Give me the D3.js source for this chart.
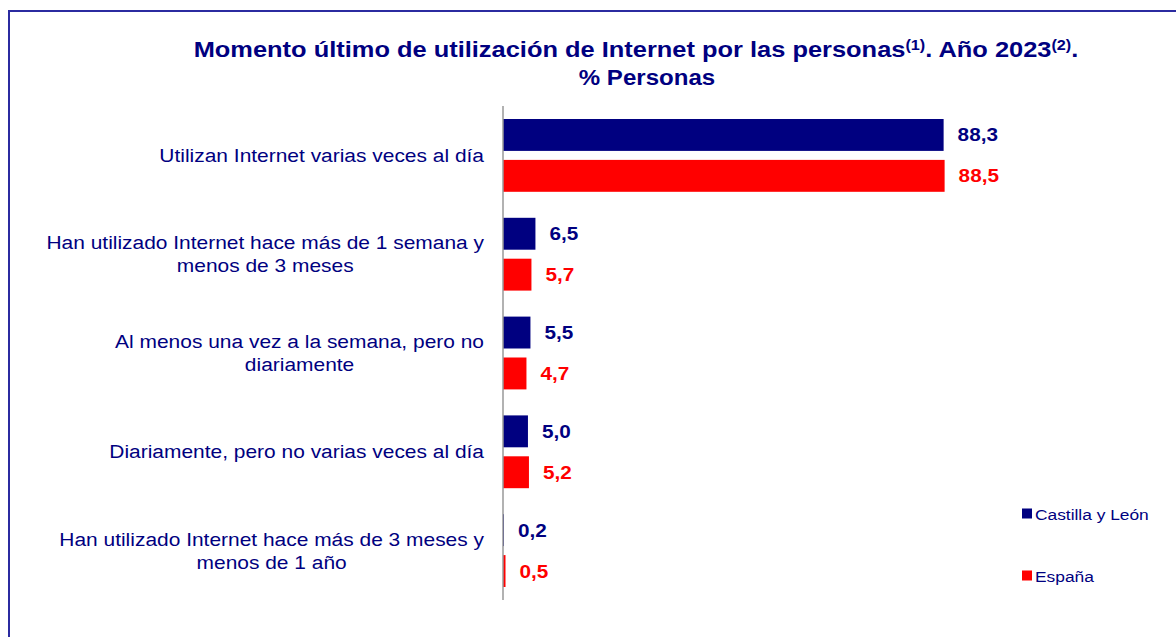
<!DOCTYPE html>
<html>
<head>
<meta charset="utf-8">
<script src="https://cdn.jsdelivr.net/npm/d3@7"></script>
<style>
  html, body { margin: 0; padding: 0; background: #fff; }
  svg { display: block; font-family: "Liberation Sans", Arial, sans-serif; }
</style>
</head>
<body>
<svg id="chart" width="1176" height="637"></svg>
<script>
const categories = [
  ["Utilizan Internet varias veces al día"],
  ["Han utilizado Internet hace más de 1 semana y", "menos de 3 meses"],
  ["Al menos una vez a la semana, pero no", "diariamente"],
  ["Diariamente, pero no varias veces al día"],
  ["Han utilizado Internet hace más de 3 meses y", "menos de 1 año"]
];
const seriesNames = ["Castilla y León", "España"];
const castillaLeon = [88.3, 6.5, 5.5, 5.0, 0.2];
const espana = [88.5, 5.7, 4.7, 5.2, 0.5];
const seriesColors = ["#000080", "#FF0000"];

const svg = d3.select("#chart");
const SX = 1.12;
const navy = "#000080";

// frame
svg.append("rect").attr("x", 9).attr("y", 11).attr("width", 1200).attr("height", 700)
  .attr("fill", "none").attr("stroke", "#2b2ba0").attr("stroke-width", 2);

function stext(g, x, y, str) {
  return g.append("text").attr("transform", `translate(${x},${y}) scale(${SX},1)`).text(str);
}

// title
const t1 = svg.append("text").attr("transform", `translate(636,57) scale(${SX},1)`)
  .attr("text-anchor", "middle").attr("fill", navy).attr("font-weight", "bold").attr("font-size", 22.7);
t1.append("tspan").text("Momento último de utilización de Internet por las personas");
t1.append("tspan").attr("font-size", 14.5).attr("dy", -7).text("(1)");
t1.append("tspan").attr("dy", 7).text(". Año 2023");
t1.append("tspan").attr("font-size", 14.5).attr("dy", -7).text("(2)");
t1.append("tspan").attr("dy", 7).text(".");
stext(svg, 647, 85, "% Personas").attr("text-anchor", "middle").attr("fill", navy)
  .attr("font-weight", "bold").attr("font-size", 21.5);

const x = d3.scaleLinear().domain([0, 100]).range([503, 1002]);
const y = d3.scaleBand().domain(d3.range(categories.length)).range([106, 600]).padding(0);
const yInner = d3.scaleBand().domain([0, 1]).range([13, y.bandwidth() - 13]).paddingInner(0.22);

const data = [castillaLeon, espana];
const fmt = v => d3.format(".1f")(v).replace(".", ",");

categories.forEach((cat, i) => {
  const g = svg.append("g").attr("transform", `translate(0,${y(i)})`);
  data.forEach((vals, s) => {
    const v = vals[i];
    g.append("rect").attr("x", x(0)).attr("y", yInner(s))
      .attr("width", x(v) - x(0)).attr("height", yInner.bandwidth())
      .attr("fill", seriesColors[s]);
    stext(g, x(v) + 14, yInner(s) + yInner.bandwidth() / 2 + 6.5, fmt(v))
      .attr("fill", seriesColors[s]).attr("font-weight", "bold").attr("font-size", 18.5);
  });
  // category label
  const cy = y(i) + y.bandwidth() / 2;
  const lh = 23;
  const n = cat.length;
  const texts = cat.map((line, k) => stext(svg, 0, 0, line)
    .attr("fill", navy).attr("font-size", 18.7).attr("text-anchor", "middle"));
  const widths = texts.map(t => t.node().getComputedTextLength() * SX);
  const wMax = widths[0];
  texts.forEach((t, k) => {
    const ly = cy - (n - 1) * lh / 2 + k * lh + 6.5;
    t.attr("transform", `translate(${484 - wMax / 2},${ly}) scale(${SX},1)`);
  });
});

// axis line
svg.append("line").attr("x1", x(0)).attr("x2", x(0)).attr("y1", 106).attr("y2", 600)
  .attr("stroke", "#999").attr("stroke-width", 1.5);

// legend
const leg = svg.append("g");
[513.5, 575.5].forEach((ly, s) => {
  leg.append("rect").attr("x", 1022).attr("y", ly - 5).attr("width", 10).attr("height", 10)
    .attr("fill", seriesColors[s]);
  stext(leg, 1035, ly + 6, seriesNames[s]).attr("fill", navy).attr("font-size", 15.5);
});
</script>
</body>
</html>
